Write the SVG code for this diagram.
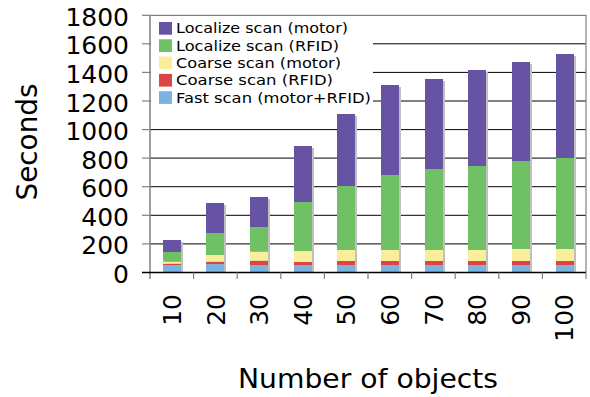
<svg xmlns="http://www.w3.org/2000/svg" width="590" height="397" viewBox="0 0 590 397">
<style>
text{font-family:"DejaVu Sans",Verdana,sans-serif;fill:#000}
.tk{font-size:25px;text-anchor:end}
.lg{font-size:14.7px}
.grid{stroke:#000;stroke-width:1}
.ax{stroke:#808080;stroke-width:1.2;fill:none}
.sh{fill:#c0c0c0}
.p{fill:#6753a4}.g{fill:#70c066}.y{fill:#f8ee9c}.r{fill:#dd4444}.b{fill:#7ab2e0}
</style>
<rect width="590" height="397" fill="#fff"/>
<g id="grid">
<line class="grid" x1="150" y1="243.9" x2="586" y2="243.9"/>
<line class="grid" x1="150" y1="215.3" x2="586" y2="215.3"/>
<line class="grid" x1="150" y1="186.7" x2="586" y2="186.7"/>
<line class="grid" x1="150" y1="158.1" x2="586" y2="158.1"/>
<line class="grid" x1="150" y1="129.6" x2="586" y2="129.6"/>
<line class="grid" x1="150" y1="101" x2="586" y2="101"/>
<line class="grid" x1="150" y1="72.4" x2="586" y2="72.4"/>
<line class="grid" x1="150" y1="43.8" x2="586" y2="43.8"/>
</g>
<g id="bars">
<g id="bar10">
<rect class="sh" x="165" y="242" width="18" height="30"/>
<rect class="b" x="163" y="265" width="18" height="7.5"/>
<rect class="r" x="163" y="263.7" width="18" height="1.3"/>
<rect class="y" x="163" y="261.7" width="18" height="2"/>
<rect class="g" x="163" y="252" width="18" height="9.7"/>
<rect class="p" x="163" y="240" width="18" height="12"/>
</g>
<g id="bar20">
<rect class="sh" x="208" y="205" width="18" height="67"/>
<rect class="b" x="206" y="264" width="18" height="8.5"/>
<rect class="r" x="206" y="261.7" width="18" height="2.3"/>
<rect class="y" x="206" y="255" width="18" height="6.7"/>
<rect class="g" x="206" y="233" width="18" height="22"/>
<rect class="p" x="206" y="203" width="18" height="30"/>
</g>
<g id="bar30">
<rect class="sh" x="252" y="199" width="18" height="73"/>
<rect class="b" x="250" y="265" width="18" height="7.5"/>
<rect class="r" x="250" y="260.7" width="18" height="4.3"/>
<rect class="y" x="250" y="251.7" width="18" height="9"/>
<rect class="g" x="250" y="227" width="18" height="24.7"/>
<rect class="p" x="250" y="197" width="18" height="30"/>
</g>
<g id="bar40">
<rect class="sh" x="296" y="148" width="18" height="124"/>
<rect class="b" x="294" y="265" width="18" height="7.5"/>
<rect class="r" x="294" y="262" width="18" height="3"/>
<rect class="y" x="294" y="251" width="18" height="11"/>
<rect class="g" x="294" y="202" width="18" height="49"/>
<rect class="p" x="294" y="146" width="18" height="56"/>
</g>
<g id="bar50">
<rect class="sh" x="339" y="116" width="18" height="156"/>
<rect class="b" x="337" y="265" width="18" height="7.5"/>
<rect class="r" x="337" y="261" width="18" height="4"/>
<rect class="y" x="337" y="250" width="18" height="11"/>
<rect class="g" x="337" y="186" width="18" height="64"/>
<rect class="p" x="337" y="114" width="18" height="72"/>
</g>
<g id="bar60">
<rect class="sh" x="383" y="87" width="18" height="185"/>
<rect class="b" x="381" y="265" width="18" height="7.5"/>
<rect class="r" x="381" y="261" width="18" height="4"/>
<rect class="y" x="381" y="250" width="18" height="11"/>
<rect class="g" x="381" y="175" width="18" height="75"/>
<rect class="p" x="381" y="85" width="18" height="90"/>
</g>
<g id="bar70">
<rect class="sh" x="427" y="81" width="18" height="191"/>
<rect class="b" x="425" y="265" width="18" height="7.5"/>
<rect class="r" x="425" y="261" width="18" height="4"/>
<rect class="y" x="425" y="250" width="18" height="11"/>
<rect class="g" x="425" y="169" width="18" height="81"/>
<rect class="p" x="425" y="79" width="18" height="90"/>
</g>
<g id="bar80">
<rect class="sh" x="470" y="72" width="18" height="200"/>
<rect class="b" x="468" y="265" width="18" height="7.5"/>
<rect class="r" x="468" y="261" width="18" height="4"/>
<rect class="y" x="468" y="250" width="18" height="11"/>
<rect class="g" x="468" y="166" width="18" height="84"/>
<rect class="p" x="468" y="70" width="18" height="96"/>
</g>
<g id="bar90">
<rect class="sh" x="514" y="64" width="18" height="208"/>
<rect class="b" x="512" y="265" width="18" height="7.5"/>
<rect class="r" x="512" y="261" width="18" height="4"/>
<rect class="y" x="512" y="249" width="18" height="12"/>
<rect class="g" x="512" y="161" width="18" height="88"/>
<rect class="p" x="512" y="62" width="18" height="99"/>
</g>
<g id="bar100">
<rect class="sh" x="558" y="56" width="18" height="216"/>
<rect class="b" x="556" y="265" width="18" height="7.5"/>
<rect class="r" x="556" y="261" width="18" height="4"/>
<rect class="y" x="556" y="249" width="18" height="12"/>
<rect class="g" x="556" y="158" width="18" height="91"/>
<rect class="p" x="556" y="54" width="18" height="104"/>
</g>
</g>
<g id="axes">
<polyline class="ax" points="150,15.3 586,15.3 586,272.5"/>
<line x1="150" y1="15.3" x2="150" y2="279" stroke="#808080" stroke-width="1.5"/>
<line x1="142" y1="272.5" x2="586" y2="272.5" stroke="#000" stroke-width="1.3"/>
<g stroke="#808080" stroke-width="1.2">
<line x1="142" y1="15.3" x2="150" y2="15.3"/>
<line x1="142" y1="43.8" x2="150" y2="43.8"/>
<line x1="142" y1="72.4" x2="150" y2="72.4"/>
<line x1="142" y1="101" x2="150" y2="101"/>
<line x1="142" y1="129.6" x2="150" y2="129.6"/>
<line x1="142" y1="158.1" x2="150" y2="158.1"/>
<line x1="142" y1="186.7" x2="150" y2="186.7"/>
<line x1="142" y1="215.3" x2="150" y2="215.3"/>
<line x1="142" y1="243.9" x2="150" y2="243.9"/>
<line x1="193.6" y1="272.5" x2="193.6" y2="279"/>
<line x1="237.2" y1="272.5" x2="237.2" y2="279"/>
<line x1="280.8" y1="272.5" x2="280.8" y2="279"/>
<line x1="324.4" y1="272.5" x2="324.4" y2="279"/>
<line x1="368" y1="272.5" x2="368" y2="279"/>
<line x1="411.6" y1="272.5" x2="411.6" y2="279"/>
<line x1="455.2" y1="272.5" x2="455.2" y2="279"/>
<line x1="498.8" y1="272.5" x2="498.8" y2="279"/>
<line x1="542.4" y1="272.5" x2="542.4" y2="279"/>
<line x1="586" y1="272.5" x2="586" y2="279"/>
</g>
</g>
<g id="ylabels">
<text class="tk" x="129" y="25.8">1800</text>
<text class="tk" x="129" y="54.3">1600</text>
<text class="tk" x="129" y="82.9">1400</text>
<text class="tk" x="129" y="111.5">1200</text>
<text class="tk" x="129" y="140.1">1000</text>
<text class="tk" x="129" y="168.6">800</text>
<text class="tk" x="129" y="197.2">600</text>
<text class="tk" x="129" y="225.8">400</text>
<text class="tk" x="129" y="254.4">200</text>
<text class="tk" x="129" y="283">0</text>
</g>
<g id="xlabels">
<text class="tk" transform="translate(181,294) rotate(-90)">10</text>
<text class="tk" transform="translate(224.6,294) rotate(-90)">20</text>
<text class="tk" transform="translate(268.2,294) rotate(-90)">30</text>
<text class="tk" transform="translate(311.8,294) rotate(-90)">40</text>
<text class="tk" transform="translate(355.4,294) rotate(-90)">50</text>
<text class="tk" transform="translate(399,294) rotate(-90)">60</text>
<text class="tk" transform="translate(442.6,294) rotate(-90)">70</text>
<text class="tk" transform="translate(486.2,294) rotate(-90)">80</text>
<text class="tk" transform="translate(529.8,294) rotate(-90)">90</text>
<text class="tk" transform="translate(573.4,294) rotate(-90)">100</text>
</g>
<g id="legend">
<rect x="151" y="17" width="222" height="88" fill="#fff"/>
<rect class="p" x="159" y="22" width="13" height="12.7"/>
<rect class="g" x="159" y="39.3" width="13" height="12.7"/>
<rect class="y" x="159" y="56.6" width="13" height="12.7"/>
<rect class="r" x="159" y="73.9" width="13" height="12.7"/>
<rect class="b" x="159" y="91.2" width="13" height="12.7"/>
<text class="lg" x="176" y="33.3" textLength="172" lengthAdjust="spacingAndGlyphs">Localize scan (motor)</text>
<text class="lg" x="176" y="50.6" textLength="163" lengthAdjust="spacingAndGlyphs">Localize scan (RFID)</text>
<text class="lg" x="176" y="67.9" textLength="165" lengthAdjust="spacingAndGlyphs">Coarse scan (motor)</text>
<text class="lg" x="176" y="85.2" textLength="157" lengthAdjust="spacingAndGlyphs">Coarse scan (RFID)</text>
<text class="lg" x="176" y="102.5" textLength="195" lengthAdjust="spacingAndGlyphs">Fast scan (motor+RFID)</text>
</g>
<g id="titles">
<text font-size="28" text-anchor="middle" transform="translate(37,142) rotate(-90)" textLength="117" lengthAdjust="spacingAndGlyphs">Seconds</text>
<text font-size="27" text-anchor="middle" x="368" y="387.7" textLength="260" lengthAdjust="spacingAndGlyphs">Number of objects</text>
</g>
</svg>
